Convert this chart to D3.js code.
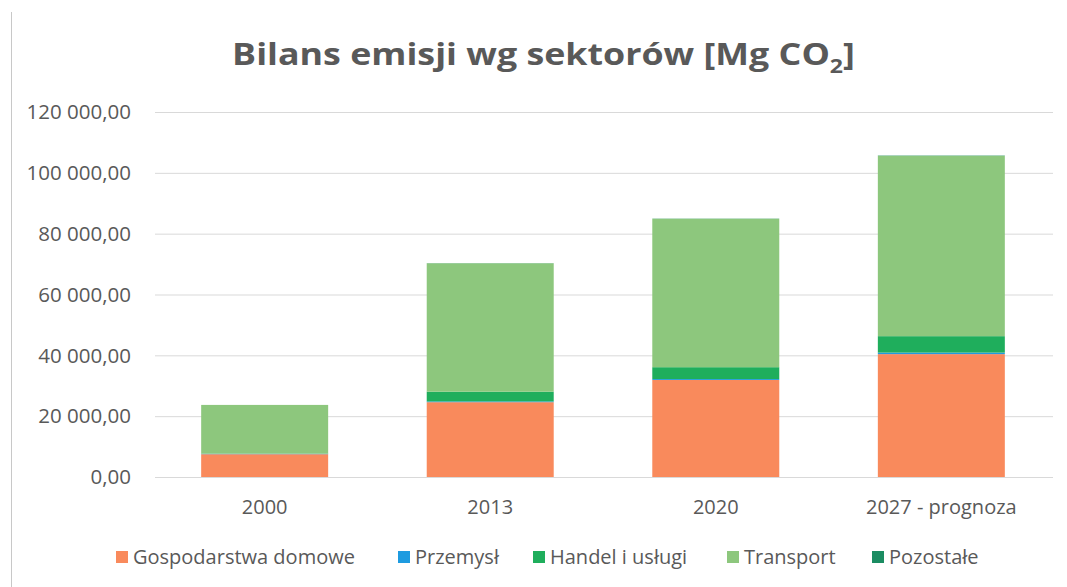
<!DOCTYPE html>
<html><head><meta charset="utf-8">
<script src="https://cdn.jsdelivr.net/npm/d3@7/dist/d3.min.js"></script>
<style>
body{margin:0;background:#fff;}
svg{display:block;}
</style></head>
<body>
<svg id="chart" width="1067" height="587"></svg>
<script>
const categories = ["2000", "2013", "2020", "2027 - prognoza"];
const seriesNames = ["Gospodarstwa domowe", "Przemysł", "Handel i usługi", "Transport", "Pozostałe"];
const gospodarstwa = [7500, 24600, 31900, 40400];
const przemysl = [100, 250, 300, 500];
const handel = [100, 3200, 3900, 5400];
const transport = [16000, 42200, 48800, 59300];
const pozostale = [0, 50, 60, 100];
const yTicks = [0, 20000, 40000, 60000, 80000, 100000, 120000];
const colors = ["#f98a5c", "#1e9be0", "#1fae5c", "#8dc77d", "#1b8c62"];

const seriesValues = [gospodarstwa, przemysl, handel, transport, pozostale];
const rows = categories.map((c, i) => {
  const r = {cat: c};
  seriesNames.forEach((s, j) => r[s] = seriesValues[j][i]);
  return r;
});

const svg = d3.select("#chart");
const textColor = "#595959";
const font = "'Open Sans', 'DejaVu Sans', sans-serif";

// scanned border line
svg.append("line").attr("x1", 11.5).attr("x2", 11.5).attr("y1", 12).attr("y2", 587)
  .attr("stroke", "#c8c8c8").attr("stroke-width", 1);

const x = d3.scaleBand().domain(categories).range([152, 1054]).paddingInner(0.437).paddingOuter(0.218);
const y = d3.scaleLinear().domain([0, 120000]).range([477, 112]);

// gridlines
svg.append("g").selectAll("line").data(yTicks).join("line")
  .attr("x1", 155).attr("x2", 1053)
  .attr("y1", d => y(d) + 0.5).attr("y2", d => y(d) + 0.5)
  .attr("stroke", "#d9d9d9").attr("stroke-width", 1);

// y axis labels
const fmt = v => {
  const s = d3.format(",.2f")(v);
  return s.replace(/,/g, " ").replace(".", ",");
};
svg.append("g").selectAll("text").data(yTicks).join("text")
  .attr("x", 131).attr("y", d => y(d))
  .attr("dy", "0.35em").attr("text-anchor", "end")
  .attr("font-family", font).attr("font-size", 20.5).attr("fill", textColor)
  .text(fmt);

// stacked bars
const stack = d3.stack().keys(seriesNames)(rows);
svg.append("g").selectAll("g").data(stack).join("g")
  .attr("fill", (d, i) => colors[i])
  .selectAll("rect").data(d => d).join("rect")
  .attr("x", d => x(d.data.cat))
  .attr("width", x.bandwidth())
  .attr("y", d => y(d[1]))
  .attr("height", d => Math.max(0, y(d[0]) - y(d[1])));

// x labels
svg.append("g").selectAll("text").data(categories).join("text")
  .attr("x", d => x(d) + x.bandwidth() / 2).attr("y", 507)
  .attr("dy", "0.35em").attr("text-anchor", "middle")
  .attr("font-family", font).attr("font-size", 20).attr("fill", textColor)
  .text(d => d);

// title
const tg = svg.append("g");
const title = tg.append("text").attr("x", 0).attr("y", 0)
  .attr("text-anchor", "middle")
  .attr("font-family", font).attr("font-size", 31).attr("font-weight", "bold")
  .attr("fill", textColor);
title.append("tspan").text("Bilans emisji wg sektorów [Mg CO");
title.append("tspan").attr("font-size", 20).attr("dy", 8).text("2");
title.append("tspan").attr("dy", -8).text("]");
const tw = title.node().getBBox().width;
tg.attr("transform", `translate(543.5,65) scale(${623 / tw},1)`);

// legend
const legendX = [116, 398, 533, 727, 872];
const lg = svg.append("g").selectAll("g").data(seriesNames).join("g")
  .attr("transform", (d, i) => `translate(${legendX[i]},557)`);
lg.append("rect").attr("x", 0).attr("y", -6).attr("width", 12).attr("height", 12)
  .attr("fill", (d, i) => colors[i]);
lg.append("text").attr("x", 17).attr("y", 0).attr("dy", "0.35em")
  .attr("font-family", font).attr("font-size", 20).attr("fill", textColor)
  .text(d => d);
</script>
</body></html>
